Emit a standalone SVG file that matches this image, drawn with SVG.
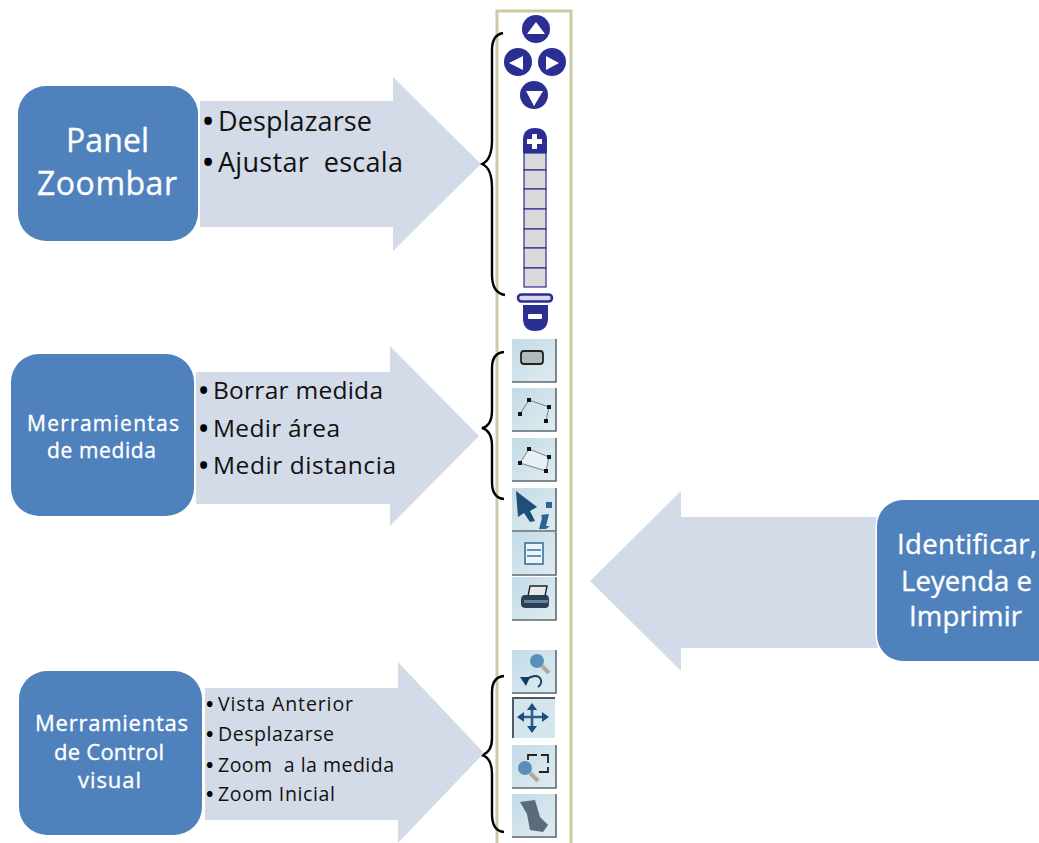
<svg xmlns="http://www.w3.org/2000/svg" width="1039" height="843" viewBox="0 0 1039 843">
<defs>
<linearGradient id="btn" x1="0" y1="0" x2="1" y2="1"><stop offset="0" stop-color="#c3dbe6"/><stop offset="1" stop-color="#dfecf1"/></linearGradient>
<g id="bt"><rect x="0" y="0" width="44" height="43" fill="url(#btn)"/><path d="M44 0V43H0" fill="none" stroke="#5e6a6e" stroke-width="1.6"/></g>
</defs>
<style>
text{font-family:"Open Sans","Noto Sans","Liberation Sans",sans-serif;white-space:pre}
.box{fill:#4f81bd;stroke:#fff;stroke-width:3;paint-order:stroke}
.arr{fill:#d4dbe8}
.w{fill:#fff;stroke:#fff;stroke-width:.35}
.k{fill:#111}
.b{fill:#000;font-weight:700}
.brace{fill:none;stroke:#000;stroke-width:2.4}
.nav{fill:#2b2f93}
.nw{fill:#fff}
.bar{fill:#d9d9d9;stroke:#2b2f93;stroke-width:1.2}
</style>
<rect width="1039" height="843" fill="#fff"/>

<g id="toolbar">
<path d="M497 843V11H571V843" fill="#fff" stroke="#cfc8a4" stroke-width="3"/>
<circle cx="536" cy="29" r="14" class="nav"/><path d="M536 22L545 34H527Z" class="nw"/>
<circle cx="518" cy="62" r="14" class="nav"/><path d="M509 63L523 56V70Z" class="nw"/>
<circle cx="552" cy="62" r="14" class="nav"/><path d="M559 63L546 56V70Z" class="nw"/>
<circle cx="534" cy="95" r="14" class="nav"/><path d="M526 91H543L534 106Z" class="nw"/>
<path d="M523 153V140Q523 128 535 128Q547 128 547 140V153Z" class="nav"/>
<path d="M532 134h5v5h5v5h-5v5h-5v-5h-5v-5h5z" class="nw"/>
<g class="bar">
<rect x="524" y="153" width="22" height="17"/><rect x="524" y="170" width="22" height="19"/><rect x="524" y="189" width="22" height="20"/><rect x="524" y="209" width="22" height="20"/><rect x="524" y="229" width="22" height="19"/><rect x="524" y="248" width="22" height="20"/><rect x="524" y="268" width="22" height="19"/>
</g>
<rect x="518" y="294.500" width="34" height="7" rx="3.500" fill="#d9d9e8" stroke="#2b2f93" stroke-width="2.600"/>
<path d="M523 305H548V318Q548 331 535 331Q523 331 523 318Z" class="nav"/>
<rect x="528" y="314" width="14" height="5" rx="1" class="nw"/>

<use href="#bt" x="512" y="339"/>
<rect x="521" y="351" width="22" height="13" rx="3" fill="#b0bcbc" stroke="#222" stroke-width="1.800"/>
<use href="#bt" x="512" y="388"/>
<path d="M520 414L529 400L549 407L546 421" fill="none" stroke="#666" stroke-width="0.800"/>
<g fill="#111"><rect x="518" y="412" width="4" height="4"/><rect x="527" y="398" width="4" height="4"/><rect x="547" y="405" width="4" height="4"/><rect x="544" y="419" width="4" height="4"/></g>
<use href="#bt" x="512" y="438"/>
<path d="M520 463L529 449L549 457L546 471Z" fill="#e6f0f6" stroke="#666" stroke-width="0.800"/>
<g fill="#111"><rect x="518" y="461" width="4" height="4"/><rect x="527" y="447" width="4" height="4"/><rect x="547" y="455" width="4" height="4"/><rect x="544" y="469" width="4" height="4"/></g>
<use href="#bt" x="512" y="488"/>
<path d="M516 491L537 507L530 511L535 521L530 522L524 513L518 517Z" fill="#1f4e79"/>
<path d="M541 515L549 514L546 526L550 526L546 529L539 529L542 518ZM546 502h6v6h-6z" fill="#2a6299"/>
<use href="#bt" x="512" y="532"/>
<rect x="525" y="543" width="18" height="21" fill="#eef5f8" stroke="#3a6f9e" stroke-width="1.600"/>
<path d="M527 550H541M527 556H541" stroke="#3a6f9e" stroke-width="1.500"/>
<use href="#bt" x="512" y="577"/>
<path d="M530 586L547 586L545 596H528Z" fill="#e8e8e8" stroke="#222" stroke-width="1.400"/>
<path d="M525 595H546Q549 595 549 600V604Q549 608 545 608H526Q521 608 521 604V600Q521 595 525 595Z" fill="#2c3e50"/>
<rect x="524" y="600" width="24" height="3" fill="#5d88a8"/>

<use href="#bt" x="512" y="650"/>
<circle cx="537" cy="661" r="7" fill="#5a8fbc"/><path d="M542 666L549 673" stroke="#b0a8a0" stroke-width="4"/>
<path d="M520 677L530 677L526 686Z" fill="#163a66"/>
<path d="M525 680Q538 672 541 680Q542 684 538 687" fill="none" stroke="#163a66" stroke-width="1.800"/>
<rect x="513" y="698" width="42" height="40" fill="#d3e6ee"/>
<path d="M513 738V698H555" fill="none" stroke="#556" stroke-width="2"/>
<path d="M520 717H546M532 707V729" stroke="#2b5f8f" stroke-width="2.600"/>
<path d="M532 703l-5 7h10zM532 733l-5-7h10zM517 717l7-5v10zM549 717l-7-5v10z" fill="#1e4d7a"/>
<use href="#bt" x="512" y="745"/>
<path d="M528 760V755H537M541 755H548V763M548 767V772H539" fill="none" stroke="#222" stroke-width="1.800"/>
<circle cx="525" cy="768" r="7" fill="#5a8fbc"/><path d="M530 773L538 781" stroke="#b0a8a0" stroke-width="4"/>
<use href="#bt" x="512" y="794"/>
<path d="M520 802L535 800L540 817L548 825L543 832L530 830L527 814Z" fill="#5b6b7a"/>
</g>

<g id="connectors">
<path class="brace" d="M503 33Q492 35 492 50V140Q492 160 482 164Q492 168 492 188V275Q492 293 505 295"/>
<path class="brace" d="M504 352Q492 353 492 368V410Q492 426 482 428Q492 431 492 446V482Q492 498 504 499"/>
<path class="brace" d="M504 676Q492 677 492 692V738Q492 752 482 755Q492 758 492 774V814Q492 831 504 832"/>
</g>

<g id="panel-zoombar">
<path class="arr" d="M200 101H393V77L481 164L393 251V227H200Z"/>
<rect class="box" x="18" y="86" width="180" height="155" rx="28"/>
<text class="w" font-size="32" x="66" y="152" textLength="83">Panel</text>
<text class="w" font-size="32" x="37" y="195" textLength="140">Zoombar</text>
<text class="b" font-size="27" x="203" y="131">•</text><text class="k" font-size="27" x="218" y="131" textLength="154">Desplazarse</text>
<text class="b" font-size="27" x="203" y="172">•</text><text class="k" font-size="27" x="218" y="172" textLength="185">Ajustar  escala</text>
</g>

<g id="herramientas-medida">
<path class="arr" d="M196 372H390V346L479 436L390 526V504H196Z"/>
<rect class="box" x="11" y="354" width="183" height="162" rx="28"/>
<text class="w" font-size="21" x="27" y="431" textLength="152">Merramientas</text>
<text class="w" font-size="21" x="47" y="458" textLength="109">de medida</text>
<text class="b" font-size="24.500" x="199" y="399">•</text><text class="k" font-size="24.500" x="213" y="399" textLength="170">Borrar medida</text>
<text class="b" font-size="24.500" x="199" y="437">•</text><text class="k" font-size="24.500" x="213" y="437" textLength="127">Medir área</text>
<text class="b" font-size="24.500" x="199" y="474">•</text><text class="k" font-size="24.500" x="213" y="474" textLength="183">Medir distancia</text>
</g>

<g id="herramientas-control">
<path class="arr" d="M205 688H398V662L484 753L398 843V820H205Z"/>
<rect class="box" x="19" y="671" width="183" height="164" rx="28"/>
<text class="w" font-size="22" x="35" y="731" textLength="153">Merramientas</text>
<text class="w" font-size="22" x="54" y="760" textLength="110">de Control</text>
<text class="w" font-size="22" x="78" y="788" textLength="63">visual</text>
<text class="b" font-size="19.500" x="206" y="711">•</text><text class="k" font-size="19.500" x="218" y="711" textLength="135">Vista Anterior</text>
<text class="b" font-size="19.500" x="206" y="741">•</text><text class="k" font-size="19.500" x="218" y="741" textLength="116">Desplazarse</text>
<text class="b" font-size="19.500" x="206" y="772">•</text><text class="k" font-size="19.500" x="218" y="772" textLength="176">Zoom  a la medida</text>
<text class="b" font-size="19.500" x="206" y="801">•</text><text class="k" font-size="19.500" x="218" y="801" textLength="117">Zoom Inicial</text>
</g>

<g id="identificar">
<path class="arr" d="M878 517H681V491L590 581L681 671V648H878Z"/>
<rect class="box" x="877" y="500" width="190" height="161" rx="26"/>
<text class="w" font-size="27.500" x="897" y="554" textLength="140">Identificar,</text>
<text class="w" font-size="27.500" x="901" y="591" textLength="131">Leyenda e</text>
<text class="w" font-size="27.500" x="909" y="626" textLength="113">Imprimir</text>
</g>
</svg>
